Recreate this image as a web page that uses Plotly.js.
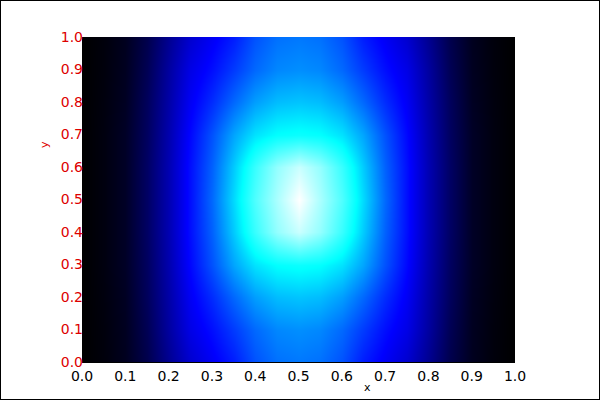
<!DOCTYPE html>
<html>
<head>
<meta charset="utf-8">
<script src="https://cdn.plot.ly/plotly-3.0.1.min.js"></script>
<style>
  body { margin: 0; background: #fff; }
  #chart { width: 598px; height: 398px; border: 1px solid #000; }
</style>
</head>
<body>
<div id="chart"></div>
<script>
	// grid centres
	var xVals = [0.0, 0.05, 0.1, 0.15, 0.2, 0.25, 0.3, 0.35, 0.4, 0.45, 0.5,
		0.55, 0.6, 0.65, 0.7, 0.75, 0.8, 0.85, 0.9, 0.95, 1.0];
	var yVals = [0.0, 0.1, 0.2, 0.3, 0.4, 0.5, 0.6, 0.7, 0.8, 0.9, 1.0];
	var tickVals = [0.0, 0.1, 0.2, 0.3, 0.4, 0.5, 0.6, 0.7, 0.8, 0.9, 1.0];

	// intensity, one row per y (bottom to top)
	var row00 = [0, 0.015, 0.04, 0.10, 0.19, 0.27, 0.32, 0.37, 0.44, 0.48, 0.49, 0.48, 0.44, 0.37, 0.32, 0.27, 0.19, 0.10, 0.04, 0.015, 0];
	var row01 = [0, 0.016, 0.042, 0.11, 0.21, 0.30, 0.35, 0.41, 0.47, 0.51, 0.52, 0.51, 0.47, 0.41, 0.35, 0.30, 0.21, 0.11, 0.042, 0.016, 0];
	var row02 = [0, 0.018, 0.045, 0.12, 0.22, 0.32, 0.39, 0.47, 0.54, 0.58, 0.59, 0.58, 0.54, 0.47, 0.39, 0.32, 0.22, 0.12, 0.045, 0.018, 0];
	var row03 = [0, 0.02, 0.05, 0.125, 0.23, 0.34, 0.44, 0.55, 0.63, 0.67, 0.68, 0.67, 0.63, 0.55, 0.44, 0.34, 0.23, 0.125, 0.05, 0.02, 0];
	var row04 = [0, 0.02, 0.05, 0.13, 0.235, 0.35, 0.46, 0.60, 0.74, 0.86, 0.93, 0.86, 0.74, 0.60, 0.46, 0.35, 0.235, 0.13, 0.05, 0.02, 0];
	var row05 = [0, 0.02, 0.05, 0.13, 0.235, 0.35, 0.47, 0.62, 0.77, 0.89, 1.00, 0.89, 0.77, 0.62, 0.47, 0.35, 0.235, 0.13, 0.05, 0.02, 0];
	var row06 = [0, 0.02, 0.05, 0.13, 0.235, 0.35, 0.46, 0.60, 0.74, 0.86, 0.93, 0.86, 0.74, 0.60, 0.46, 0.35, 0.235, 0.13, 0.05, 0.02, 0];
	var row07 = [0, 0.02, 0.05, 0.125, 0.23, 0.34, 0.44, 0.55, 0.63, 0.67, 0.68, 0.67, 0.63, 0.55, 0.44, 0.34, 0.23, 0.125, 0.05, 0.02, 0];
	var row08 = [0, 0.018, 0.045, 0.12, 0.22, 0.32, 0.39, 0.47, 0.54, 0.58, 0.59, 0.58, 0.54, 0.47, 0.39, 0.32, 0.22, 0.12, 0.045, 0.018, 0];
	var row09 = [0, 0.016, 0.042, 0.11, 0.21, 0.30, 0.35, 0.41, 0.47, 0.51, 0.52, 0.51, 0.47, 0.41, 0.35, 0.30, 0.21, 0.11, 0.042, 0.016, 0];
	var row10 = [0, 0.015, 0.04, 0.10, 0.19, 0.27, 0.32, 0.37, 0.44, 0.48, 0.49, 0.48, 0.44, 0.37, 0.32, 0.27, 0.19, 0.10, 0.04, 0.015, 0];

	var zRows = [row00, row01, row02, row03, row04, row05, row06, row07, row08, row09, row10];

	var data = [{
		type: 'heatmap',
		x: xVals,
		y: yVals,
		z: zRows,
		zmin: 0,
		zmax: 1,
		zsmooth: 'best',
		showscale: false,
		hoverinfo: 'none',
		colorscale: [[0, '#000000'], [1/3, '#0000ff'], [2/3, '#00ffff'], [1, '#ffffff']]
	}];

	var tickFont = {family: 'DejaVu Sans', size: 14};

	var layout = {
		width: 598,
		height: 398,
		margin: {l: 81, r: 84, t: 36, b: 37, pad: 0},
		paper_bgcolor: '#ffffff',
		plot_bgcolor: '#ffffff',
		showlegend: false,
		xaxis: {
			range: [0, 1],
			tickvals: tickVals,
			tickformat: '.1f',
			ticks: '',
			ticklabelstandoff: 1,
			showgrid: false,
			zeroline: false,
			showline: true,
			linecolor: '#000000',
			linewidth: 1,
			tickfont: {family: tickFont.family, size: tickFont.size, color: '#000000'}
		},
		yaxis: {
			range: [0, 1],
			tickvals: tickVals,
			tickformat: '.1f',
			ticks: '',
			ticklabelstandoff: -2,
			showgrid: false,
			zeroline: false,
			showline: false,
			tickfont: {family: tickFont.family, size: tickFont.size, color: '#dd0000'}
		},
		annotations: [
			{text: 'x', xref: 'paper', yref: 'paper', x: 0.66, y: -0.078, xanchor: 'center', yanchor: 'middle',
				showarrow: false, font: {family: 'DejaVu Sans', size: 11, color: '#000000'}},
			{text: 'y', xref: 'paper', yref: 'paper', x: -0.085, y: 0.668, xanchor: 'center', yanchor: 'middle',
				textangle: -90, showarrow: false, font: {family: 'DejaVu Sans', size: 11, color: '#dd0000'}}
		]
	};

	Plotly.newPlot('chart', data, layout, {displayModeBar: false, staticPlot: true});
</script>
</body>
</html>
